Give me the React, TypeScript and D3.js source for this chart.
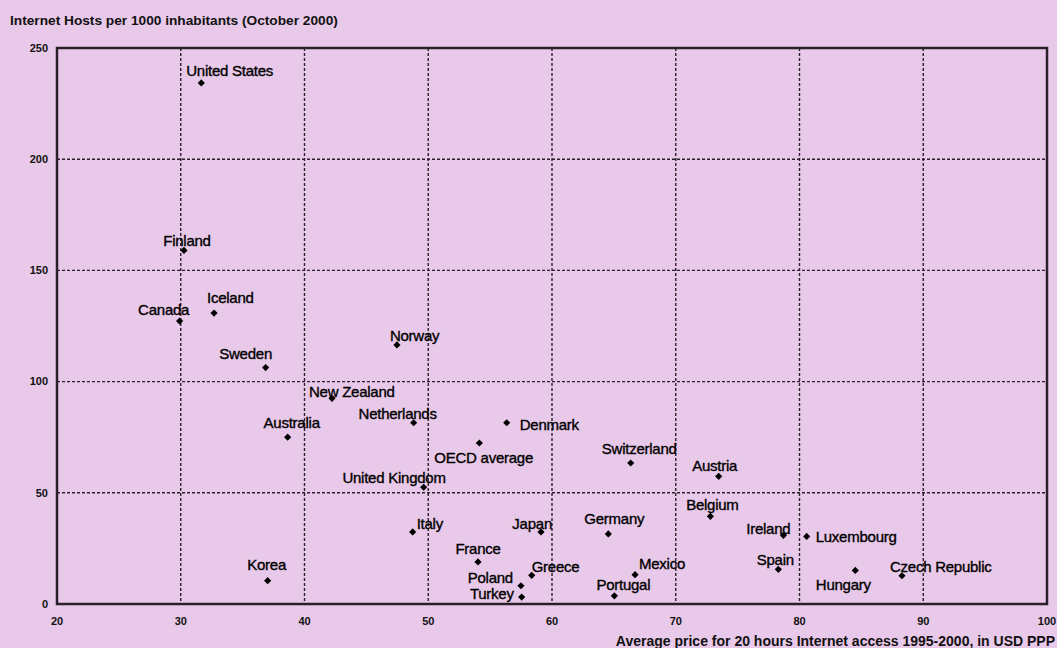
import React from "react";
import * as d3 from "d3";

const countries = [
  "United States", "Finland", "Canada", "Iceland", "Sweden", "New Zealand", "Australia",
  "Norway", "Netherlands", "Denmark", "OECD average", "United Kingdom", "Italy", "Japan",
  "Germany", "France", "Greece", "Poland", "Turkey", "Mexico", "Portugal", "Switzerland",
  "Austria", "Belgium", "Ireland", "Luxembourg", "Spain", "Hungary", "Czech Republic", "Korea",
];
const priceUSD = [
  31.66, 30.26, 29.91, 32.69, 36.86, 42.22, 38.64,
  47.47, 48.82, 56.34, 54.13, 49.63, 48.74, 59.11,
  64.55, 54.02, 58.36, 57.49, 57.55, 66.71, 65.04, 66.36,
  73.47, 72.8, 78.7, 80.58, 78.29, 84.51, 88.28, 37.02,
];
const hostsPer1000 = [
  234.3, 159.0, 127.2, 130.8, 106.3, 92.5, 75.0,
  116.5, 81.5, 81.5, 72.4, 52.5, 32.4, 32.4,
  31.5, 18.9, 12.9, 8.2, 3.1, 13.2, 3.7, 63.4,
  57.4, 39.4, 30.9, 30.4, 15.6, 15.1, 12.7, 10.5,
];
const xTicks = [20, 30, 40, 50, 60, 70, 80, 90, 100];
const yTicks = [0, 50, 100, 150, 200, 250];
const titleText = "Internet Hosts per 1000 inhabitants (October 2000)";
const xAxisTitle = "Average price for 20 hours Internet access 1995-2000, in USD PPP";

// label placement relative to marker (pixels): [dx, dy, anchor]
const labelPlacement: [number, number, string][] = [
  [-15, -12, "start"], [3, -10, "middle"], [-16, -11, "middle"], [-7, -15, "start"],
  [-20, -14, "middle"], [-23, -7, "start"], [4, -14, "middle"], [-7, -9, "start"],
  [-16, -9, "middle"], [13, 2, "start"], [-45, 15, "start"], [22, -9, "end"],
  [4, -8, "start"], [11, -8, "end"], [6, -15, "middle"], [0, -13, "middle"],
  [0, -9, "start"], [-8, -8, "end"], [-8, -3.5, "end"], [4, -11, "start"],
  [9, -11, "middle"], [8.5, -14, "middle"], [-4, -11, "middle"], [2, -12, "middle"],
  [7, -7, "end"], [9, 0, "start"], [-3, -10, "middle"], [-12, 14, "middle"],
  [-12, -9, "start"], [-1, -16, "middle"],
];

const W = 1057;
const H = 648;
const M = { left: 57, right: 1047, top: 48, bottom: 604 };
const BG = "#e9c9e9";
const INK = "#2a2029";
const FONT = "'Liberation Sans', Arial, Helvetica, sans-serif";

export default function App() {
  const x = d3.scaleLinear().domain([20, 100]).range([M.left, M.right]);
  const y = d3.scaleLinear().domain([0, 250]).range([M.bottom, M.top]);
  const diamond = d3.symbol(d3.symbolSquare, 26)() as string;

  return (
    <svg
      width={W}
      height={H}
      style={{ position: "absolute", left: 0, top: 0, display: "block" }}
      fontFamily={FONT}
    >
      <rect x={0} y={0} width={W} height={H} fill={BG} />
      <text x={10} y={20} dy="0.35em" fontSize={13.7} fontWeight="bold" fill="#111">
        {titleText}
      </text>

      {/* grid */}
      {xTicks.filter((t) => t > 20 && t < 100).map((t) => (
        <line key={"gx" + t} x1={x(t)} x2={x(t)} y1={M.top} y2={M.bottom}
          stroke={INK} strokeWidth={1.4} strokeDasharray="3,2" />
      ))}
      {yTicks.filter((t) => t > 0 && t < 250).map((t) => (
        <line key={"gy" + t} x1={M.left} x2={M.right} y1={y(t)} y2={y(t)}
          stroke={INK} strokeWidth={1.4} strokeDasharray="3,2" />
      ))}

      {/* frame */}
      <rect x={M.left} y={M.top} width={M.right - M.left} height={M.bottom - M.top}
        fill="none" stroke={INK} strokeWidth={2.5} />

      {/* tick labels */}
      {yTicks.map((t) => (
        <text key={"ty" + t} x={M.left - 9} y={y(t)} dy="0.35em" textAnchor="end"
          fontSize={11} fontWeight="bold" fill="#111">{t}</text>
      ))}
      {xTicks.map((t) => (
        <text key={"tx" + t} x={x(t)} y={621} dy="0.35em" textAnchor="middle"
          fontSize={11} fontWeight="bold" fill="#111">{t}</text>
      ))}
      <text x={1055} y={641} dy="0.35em" textAnchor="end" fontSize={14} fontWeight="bold" fill="#111">
        {xAxisTitle}
      </text>

      {/* points */}
      {countries.map((c, i) => {
        const px = x(priceUSD[i]);
        const py = y(hostsPer1000[i]);
        const [dx, dy, anchor] = labelPlacement[i];
        return (
          <g key={c}>
            <path d={diamond} transform={`translate(${px},${py}) rotate(45)`} fill="#000" />
            <text x={px + dx} y={py + dy} dy="0.35em" textAnchor={anchor as any}
              fontSize={15} letterSpacing={-0.25} fill="#000" stroke="#000" strokeWidth={0.35}>{c}</text>
          </g>
        );
      })}
    </svg>
  );
}
